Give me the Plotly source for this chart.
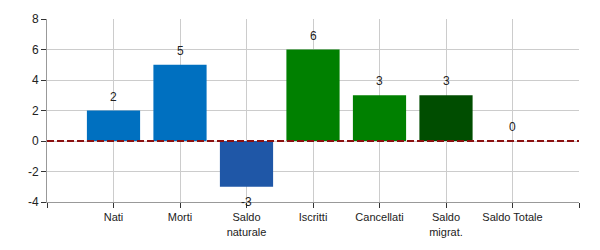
import plotly.graph_objects as go

categories = ["Nati", "Morti", "Saldo<br>naturale", "Iscritti", "Cancellati", "Saldo<br>migrat.", "Saldo Totale"]
values = [2, 5, -3, 6, 3, 3, 0]
colors = ["#0070C0", "#0070C0", "#1F57A7", "#008000", "#008000", "#004D00", "#004D00"]
y_ticks = [-4, -2, 0, 2, 4, 6, 8]
y_ticktext = ["-4", "-2", "0", "2", "4", "6", "8"]

xpos = list(range(len(categories)))
font = "Liberation Sans, Arial, sans-serif"

fig = go.Figure()
fig.add_trace(go.Bar(x=xpos, y=values, marker=dict(color=colors, line=dict(width=0)),
                     width=0.8, hoverinfo="skip"))

for x, v in zip(xpos, values):
    fig.add_annotation(x=x, y=v, text=str(v), showarrow=False,
                       yshift=14 if v >= 0 else -15,
                       font=dict(family=font, size=12, color="#222"))

fig.add_shape(type="line", xref="paper", x0=0, x1=1, y0=0, y1=0,
              line=dict(color="#8B1010", width=2, dash="7px,3px"))

fig.update_layout(
    width=600, height=250,
    margin=dict(l=47, r=21, t=15, b=46),
    paper_bgcolor="white", plot_bgcolor="white",
    showlegend=False,
    font=dict(family=font, size=11, color="#222"),
    xaxis=dict(range=[-1, 7], tickmode="array",
               tickvals=[-1] + xpos + [7], ticktext=[""] + categories + [""],
               showgrid=True, gridcolor="#CCCCCC", gridwidth=1,
               showline=True, linecolor="#999999", linewidth=1,
               ticks="outside", ticklen=5, tickcolor="#333", zeroline=False,
               tickfont=dict(size=11, color="#222")),
    yaxis=dict(range=[-4, 8], tickmode="array", tickvals=y_ticks, ticktext=y_ticktext,
               showgrid=True, gridcolor="#CCCCCC", gridwidth=1,
               showline=True, linecolor="#999999", linewidth=1,
               ticks="outside", ticklen=5, tickcolor="#333", zeroline=False,
               tickfont=dict(size=12, color="#222")),
)

fig.write_html("out.html")
